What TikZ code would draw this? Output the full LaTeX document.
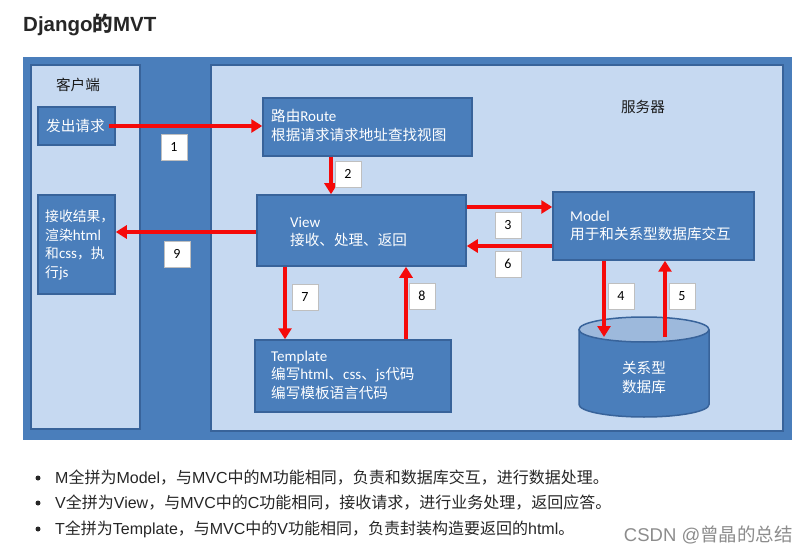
\documentclass[tikz,border=0pt]{standalone}
\usepackage{fontspec}
\setmainfont{Noto Sans CJK SC}
\newfontfamily\lat{Carlito}
\newfontfamily\hel{Liberation Sans}
\usetikzlibrary{arrows.meta}
\definecolor{outerblue}{HTML}{4A7EBB}
\definecolor{panel}{HTML}{C6D9F1}
\definecolor{edge}{HTML}{38639A}
\definecolor{boxfill}{HTML}{4A7EBB}
\definecolor{arrowred}{HTML}{F50A0A}
\definecolor{dbtop}{HTML}{9DB9DC}
\newcommand{\la}[1]{{\lat\fontsize{15}{18.5}\selectfont #1}}
\newcommand{\he}[1]{{\hel #1}}
\begin{document}
\begin{tikzpicture}[x=1pt,y=-1pt,
  panelbox/.style={draw=edge, line width=2pt, fill=panel, inner sep=0pt},
  bluebox/.style={draw=edge, line width=1.5pt, fill=boxfill, inner sep=0pt},
  boxtext/.style={text=white, align=left, font=\fontsize{14.6}{18.5}\selectfont, inner sep=0pt, anchor=west},
  darktext/.style={text=black!90, font=\fontsize{14.6}{18}\selectfont, inner sep=0pt},
  flow/.style={draw=arrowred, line width=3.5pt, -{Triangle[width=13pt,length=11pt]}},
  numlabel/.style={draw=black!25, line width=0.6pt, fill=white, minimum width=26pt, minimum height=26pt, inner sep=0pt, font=\lat\fontsize{14}{14}\selectfont},
  bullettext/.style={anchor=west, text=black!85, font=\fontsize{16}{16}\selectfont, inner sep=0pt},
  dot/.style={circle, fill=black!85, minimum size=5pt, inner sep=0pt},
]
\useasboundingbox (0,0) rectangle (808,553);

% title
\node[anchor=west, text=black!85, font=\bfseries\fontsize{20.5}{21}\selectfont, inner sep=0pt] (title) at (23,25) {\he{Django}的\he{MVT}};

% frame and panels
\node[fill=outerblue, minimum width=769pt, minimum height=383pt, inner sep=0pt] (frame) at (407.5,248.5) {};
\node[panelbox, minimum width=109pt, minimum height=364pt] (client) at (85.5,247) {};
\node[panelbox, minimum width=572pt, minimum height=366pt] (server) at (497,248) {};
\node[darktext] (clienttitle) at (78,85) {客户端};
\node[darktext] (servertitle) at (643,107) {服务器};

% client boxes
\node[bluebox, minimum width=77pt, minimum height=38pt] (req) at (76.5,126) {};
\node[boxtext] (reqtxt) at (46,126) {发出请求};
\node[bluebox, minimum width=77pt, minimum height=99pt] (recv) at (76.5,244.5) {};
\node[boxtext, font=\fontsize{13.8}{18.7}\selectfont] (recvtxt) at (45,245) {接收结果，\\渲染\la{html}\\和\la{css}，执\\行\la{js}};

% server boxes
\node[bluebox, minimum width=209pt, minimum height=58pt] (route) at (367.5,127) {};
\node[boxtext] (routetxt) at (271,125.5) {路由\la{Route}\\根据请求请求地址查找视图};
\node[bluebox, minimum width=209pt, minimum height=71pt] (view) at (361.5,230.5) {};
\node[boxtext] (viewtxt) at (290,232) {\la{View}\\接收、处理、返回};
\node[bluebox, minimum width=201pt, minimum height=68pt] (model) at (653.5,226) {};
\node[boxtext] (modeltxt) at (570,226) {\la{Model}\\用于和关系型数据库交互};
\node[bluebox, minimum width=196pt, minimum height=72pt] (template) at (353,376) {};
\node[boxtext] (templatetxt) at (271,375) {\la{Template}\\编写\la{html}、\la{css}、\la{js}代码\\编写模板语言代码};

% database cylinder
\fill[boxfill] (579,329.5) -- (579,404.5) arc[start angle=180, end angle=0, x radius=65, y radius=12.5] -- (709,329.5) -- cycle;
\draw[edge, line width=1.5pt] (579,329.5) -- (579,404.5) arc[start angle=180, end angle=0, x radius=65, y radius=12.5] -- (709,329.5);
\draw[edge, line width=1.5pt, fill=dbtop] (644,329.5) ellipse[x radius=65, y radius=12.5];
\node[text=white, align=center, font=\fontsize{14.6}{19}\selectfont, inner sep=0pt] (db) at (644,378) {关系型\\数据库};
\coordinate (db4) at (604,337);
\coordinate (db5) at (665,337);

% helper levels
\coordinate (y3) at (0,207);
\coordinate (y6) at (0,246);
\coordinate (y9) at (0,232);
\coordinate (x2) at (331,0);
\coordinate (x7) at (285,0);
\coordinate (x8) at (406,0);

% arrows
\draw[flow] ([xshift=-7pt]req.east) -- (route.west |- req.east);
\draw[flow] (x2 |- route.south) -- (x2 |- view.north);
\draw[flow] (view.east |- y3) -- (model.west |- y3);
\draw[flow] (model.south -| db4) -- (db4);
\draw[flow] (db5) -- (model.south -| db5);
\draw[flow] (model.west |- y6) -- (view.east |- y6);
\draw[flow] (x7 |- view.south) -- (x7 |- template.north);
\draw[flow] (x8 |- template.north) -- (x8 |- view.south);
\draw[flow] (view.west |- y9) -- (recv.east |- y9);

% number labels
\node[numlabel] (n1) at (174,147) {1};
\node[numlabel] (n2) at (348,174) {2};
\node[numlabel] (n3) at (508,225) {3};
\node[numlabel] (n4) at (621,296) {4};
\node[numlabel] (n5) at (682,296) {5};
\node[numlabel] (n6) at (508,264) {6};
\node[numlabel] (n7) at (305,297) {7};
\node[numlabel] (n8) at (422,296) {8};
\node[numlabel] (n9) at (177,254) {9};

% bullets
\node[dot] (d1) at (38,478) {};
\node[dot] (d2) at (38,503) {};
\node[dot] (d3) at (38,529) {};
\node[bullettext] (b1) at (55,478) {\he{M}全拼为\he{Model}，与\he{MVC}中的\he{M}功能相同，负责和数据库交互，进行数据处理。};
\node[bullettext] (b2) at (55,503) {\he{V}全拼为\he{View}，与\he{MVC}中的\he{C}功能相同，接收请求，进行业务处理，返回应答。};
\node[bullettext] (b3) at (55,529) {\he{T}全拼为\he{Template}，与\he{MVC}中的\he{V}功能相同，负责封装构造要返回的\he{html}。};

% watermark
\node[anchor=east, text=black!45, font=\fontsize{18.5}{19}\selectfont, inner sep=0pt] (wm) at (793,535) {\he{CSDN @}曾晶的总结};
\end{tikzpicture}
\end{document}
